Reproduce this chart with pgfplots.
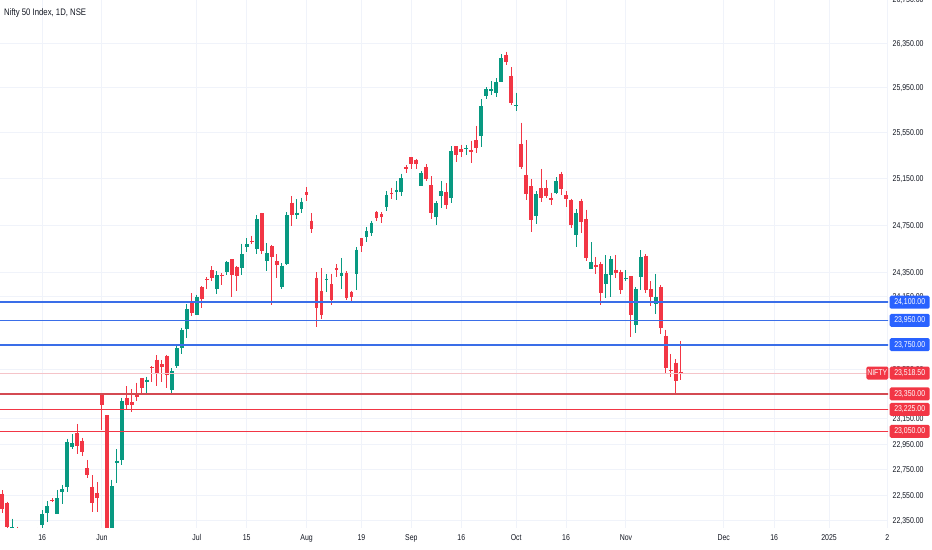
\documentclass[border=0pt]{standalone}
\usepackage{pgfplots}
\pgfplotsset{compat=1.18}
\usepackage{pgfplotstable}
\usepackage{fontspec}
\setmainfont{Liberation Sans}[FakeStretch=0.82]
\definecolor{tvgreen}{HTML}{089981}
\definecolor{tvred}{HTML}{F23645}
\definecolor{tvredd}{HTML}{D44A52}
\definecolor{tvblue}{HTML}{2962FF}
\definecolor{tvblueline}{HTML}{3A6EE8}
\definecolor{tvgrid}{HTML}{F0F3FA}
\definecolor{tvtext}{HTML}{131722}
\definecolor{pline}{HTML}{F5C4C9}

% x = trading-day index (0 = 3 Jun 2024); the price axis is logarithmic (plotted as ln of price)
\pgfplotstableread{
x o h l c
-18 22231 22368 22185 22302
-16 21990 22131 21950 22055
-15 22027 22132 21821 22104
-14 22113 22271 22082 22218
-12 22319 22432 22054 22404
-11 22415 22502 22345 22467
-9 22405 22591 22404 22529
-8 22577 22630 22483 22598
-7 22614 22993 22577 22968
-6 22931 23027 22908 22957
2 22128 22670 21792 22620
3 22799 22910 22643 22821
4 22822 23320 22789 23290
9 23445 23490 23353 23466
14 23383 23559 23350 23538
15 23577 23754 23562 23721
16 23723 23890 23670 23869
17 23882 24088 23805 24045
19 23993 24164 23993 24142
23 24213 24363 24169 24324
25 24351 24444 24332 24433
28 24388 24592 24331 24502
29 24562 24636 24522 24587
31 24544 24838 24505 24801
33 24446 24595 24362 24509
36 24231 24426 24211 24406
37 24423 24861 24411 24835
39 24839 24972 24799 24857
40 24887 24985 24857 24951
45 24289 24338 24185 24298
48 24320 24473 24212 24347
51 24335 24564 24205 24541
53 24649 24734 24607 24699
54 24681 24788 24655 24770
57 24906 25044 24875 25011
59 25031 25130 24965 25052
60 25035 25193 24999 25152
64 25090 25216 25084 25199
67 24823 24958 24753 24936
68 24999 25131 24897 25041
70 24987 25433 24942 25389
73 25417 25442 25352 25419
76 25526 25849 25427 25791
77 25873 25956 25847 25939
78 25922 26012 25887 25940
79 25900 26033 25871 26004
80 26005 26251 25998 26216
83 25789 25908 25739 25797
87 24832 25044 24757 25013
91 25023 25160 25018 25128
95 24665 24886 24568 24854
98 24378 24604 24378 24436
101 24251 24493 24134 24339
102 24329 24485 24141 24467
105 24303 24368 24280 24304
107 23916 24229 23843 24213
108 24309 24538 24204 24484
111 24087 24337 24005 24141
}\greens

\pgfplotstableread{
x o h l c
-20 22561 22588 22409 22442
-19 22489 22499 22232 22302
-17 22224 22307 21932 21958
-13 22255 22298 22151 22201
-10 22513 22526 22493 22502
-5 23038 23111 22871 22932
-4 22977 23000 22854 22888
-3 22762 22825 22685 22705
-2 22617 22706 22417 22488
-1 22568 22652 22417 22531
0 23338 23339 23062 23264
1 23180 23180 21281 21885
5 23319 23412 23227 23259
6 23284 23390 23207 23265
7 23345 23442 23296 23323
8 23480 23481 23354 23399
10 23570 23573 23449 23558
11 23629 23664 23413 23516
12 23590 23624 23443 23567
13 23661 23667 23398 23501
18 24096 24174 23986 24011
20 24229 24236 24056 24124
21 24292 24309 24207 24287
22 24370 24401 24281 24302
24 24330 24345 24241 24321
26 24460 24461 24142 24325
27 24397 24403 24194 24316
30 24616 24661 24588 24613
32 24854 24855 24508 24531
34 24569 24583 24074 24479
35 24445 24504 24307 24414
38 24943 25000 24742 24836
41 25031 25078 24956 25011
42 24789 24852 24687 24718
43 24303 24350 23894 24056
44 24190 24383 23960 23993
46 24249 24341 24080 24117
47 24387 24420 24311 24368
49 24342 24360 24117 24139
50 24184 24197 24100 24144
52 24636 24639 24523 24573
55 24863 24867 24785 24812
56 24845 24858 24772 24823
58 25025 25073 24974 25018
61 25250 25268 25199 25236
62 25334 25334 25236 25279
63 25313 25322 25236 25280
65 25251 25275 25128 25145
66 25094 25169 24801 24852
69 25034 25114 24885 24919
71 25431 25431 25293 25357
72 25407 25446 25336 25384
74 25402 25482 25286 25378
75 25487 25611 25376 25416
81 26248 26277 26151 26179
82 26061 26135 25794 25811
84 25453 25640 25230 25250
85 25182 25485 24967 25015
86 25084 25143 24694 24796
88 25066 25234 24948 24982
89 25067 25134 24979 24999
90 24985 25029 24920 24964
92 25186 25212 25008 25057
93 25009 25046 24909 24971
94 24964 24978 24728 24750
96 24956 24978 24680 24781
97 24799 24882 24446 24472
99 24413 24481 24341 24399
100 24418 24440 24074 24181
103 24372 24498 24307 24341
104 24350 24372 24173 24205
106 24316 24317 23816 23995
109 24490 24503 24179 24199
110 24208 24276 24067 24148
112 24226 24242 23839 23884
113 23823 23874 23510 23559
114 23542 23676 23484 23533
115 23605 23630 23350 23454
116 23530 23781 23465 23519
}\reds

\begin{document}
\begin{tikzpicture}[x=1bp,y=1bp,
  lab/.style={font=\fontsize{8.5}{10}\selectfont, text=white, inner sep=0pt,
    minimum width=40bp, minimum height=13bp, rounded corners=1.5bp, anchor=west, xshift=1.5bp}]
\useasboundingbox (0bp,0bp) rectangle (932bp,550bp);
\fill[white] (0bp,0bp) rectangle (932bp,550bp);
\begin{axis}[
  at={(0bp,22bp)}, anchor=south west,
  width=888bp, height=528bp, scale only axis,
  xmin=-20.44, xmax=157.52,
  ymin=10.0121178, ymax=10.1941778,
  clip mode=individual,
  axis line style={draw=none},
  major tick length=0pt,
  xmajorgrids, ymajorgrids,
  grid style={tvgrid, line width=1bp},
  xtick={-12,0,19,29,41,52,62,72,83,93,105,124.6,134.7,145.7,157.4},
  xticklabels={16,Jun,Jul,15,Aug,19,Sep,16,Oct,16,Nov,Dec,16,2025,2},
  % ln of 22350, 22550, 22750, 22950, 23150, 23350, 23550, 23750, 23950, 24150, 24350, 24750, 25150, 25550, 25950, 26350
  ytick={10.0145817,10.0234904,10.0323205,10.0410732,10.0497500,10.0583523,10.0668811,10.0753378,10.0837237,10.0920397,10.1002872,10.1165809,10.1326133,10.1483927,10.1639269,10.1792236},
  yticklabels={{22,350.00},{22,550.00},{22,750.00},{22,950.00},{23,150.00},{23,350.00},{23,550.00},{23,750.00},{23,950.00},{24,150.00},{24,350.00},{24,750.00},{25,150.00},{25,550.00},{25,950.00},{26,350.00}},
  yticklabel pos=right,
  tick label style={font=\fontsize{8.5}{10}\selectfont, text=tvtext, inner sep=0pt},
  xticklabel style={anchor=base, yshift=-12.3bp},
  yticklabel style={anchor=base west, xshift=4.5bp, yshift=-3bp},
  table/row sep=\\,
]
% wicks
\addplot[draw=none, mark=none, forget plot,
  error bars/.cd, y dir=minus, y explicit, error mark=none,
  error bar style={draw=tvgreen, line width=1bp}]
  table[x=x, y expr=ln(\thisrow{h}), y error minus expr=ln(\thisrow{h})-ln(\thisrow{l})] {\greens};
\addplot[draw=none, mark=none, forget plot,
  error bars/.cd, y dir=minus, y explicit, error mark=none,
  error bar style={draw=tvred, line width=1bp}]
  table[x=x, y expr=ln(\thisrow{h}), y error minus expr=ln(\thisrow{h})-ln(\thisrow{l})] {\reds};
% bodies
\addplot[draw=none, mark=none, forget plot,
  error bars/.cd, y dir=minus, y explicit, error mark=none,
  error bar style={draw=tvgreen, line width=3.8bp, line cap=butt}]
  table[x=x, y expr=ln(\thisrow{c}), y error minus expr={max(ln(\thisrow{c})-ln(\thisrow{o}),0.00035)}] {\greens};
\addplot[draw=none, mark=none, forget plot,
  error bars/.cd, y dir=minus, y explicit, error mark=none,
  error bar style={draw=tvred, line width=3.8bp, line cap=butt}]
  table[x=x, y expr=ln(\thisrow{o}), y error minus expr={max(ln(\thisrow{o})-ln(\thisrow{c}),0.00035)}] {\reds};
% level lines
\addplot[pline, line width=1.2bp, forget plot] table[x=x, y expr=ln(\thisrow{v})] {x v\\ -21 23518.5\\ 158 23518.5\\};
\addplot[tvblueline, line width=1.7bp, forget plot] table[x=x, y expr=ln(\thisrow{v})] {x v\\ -21 24100\\ 158 24100\\};
\addplot[tvblueline, line width=1.7bp, forget plot] table[x=x, y expr=ln(\thisrow{v})] {x v\\ -21 23950\\ 158 23950\\};
\addplot[tvblueline, line width=1.7bp, forget plot] table[x=x, y expr=ln(\thisrow{v})] {x v\\ -21 23750\\ 158 23750\\};
\addplot[tvredd, line width=1.7bp, forget plot] table[x=x, y expr=ln(\thisrow{v})] {x v\\ -21 23350\\ 158 23350\\};
\addplot[tvred, line width=1.6bp, forget plot] table[x=x, y expr=ln(\thisrow{v})] {x v\\ -21 23225\\ 158 23225\\};
\addplot[tvred, line width=1.6bp, forget plot] table[x=x, y expr=ln(\thisrow{v})] {x v\\ -21 23050\\ 158 23050\\};
% top price label, cut by the chart's upper edge (ln 26750)
\node[anchor=base west, inner sep=0pt, xshift=4.5bp, yshift=-3bp, font=\fontsize{8.5}{10}\selectfont, text=tvtext] at (axis cs:157.52,10.1942899) {26,750.00};
% price-scale labels (y = ln of the level)
\node[lab, fill=tvblue] at (axis cs:157.52,10.0899672) {24,100.00};
\node[lab, fill=tvblue] at (axis cs:157.52,10.0837237) {23,950.00};
\node[lab, fill=tvblue] at (axis cs:157.52,10.0753378) {23,750.00};
\node[lab, fill=tvred] at (axis cs:157.52,10.0655427) {23,518.50};
\node[lab, fill=tvred, anchor=east, minimum width=22bp, xshift=-1bp] at (axis cs:157.52,10.0655427) {NIFTY};
\node[lab, fill=tvred] at (axis cs:157.52,10.0583523) {23,350.00};
\node[lab, fill=tvred] at (axis cs:157.52,10.0529846) {23,225.00};
\node[lab, fill=tvred] at (axis cs:157.52,10.0454210) {23,050.00};
\end{axis}
\node[anchor=west, inner sep=0pt, font=\fontsize{9.5}{11}\selectfont, text=tvtext] at (4bp,537bp) {Nifty 50 Index, 1D, NSE};
\end{tikzpicture}
\end{document}
